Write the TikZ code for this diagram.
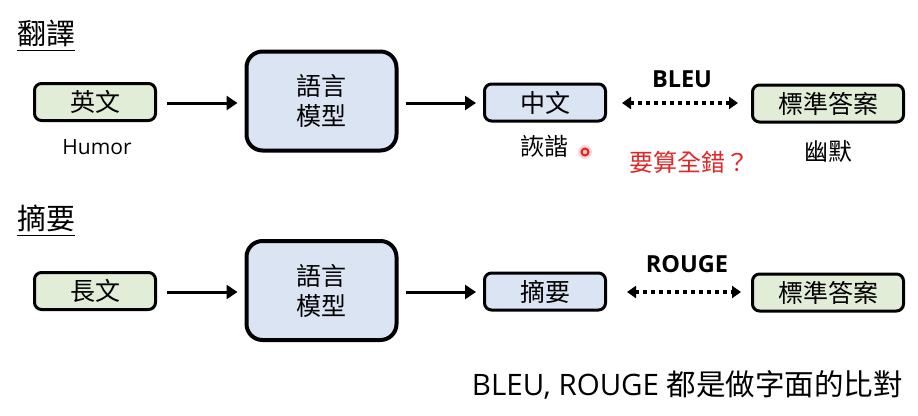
\documentclass[tikz,border=0pt]{standalone}
\usepackage{fontspec}
\setmainfont{Open Sans}
\newfontfamily\cjk{Noto Sans CJK TC}
\usetikzlibrary{arrows.meta}

\definecolor{boxgreen}{RGB}{226,237,215}
\definecolor{boxblue}{RGB}{218,228,243}
\definecolor{alertred}{RGB}{226,38,38}

\tikzset{
  smallbox/.style={draw=black, line width=3pt, rounded corners=7pt,
    minimum height=37pt, inner sep=0pt, font=\cjk\fontsize{25}{28}\selectfont},
  inbox/.style={smallbox, fill=boxgreen, minimum width=121pt},
  outbox/.style={smallbox, fill=boxblue, minimum width=121pt},
  refbox/.style={smallbox, fill=boxgreen, minimum width=151pt},
  modelbox/.style={draw=black, line width=4pt, rounded corners=16pt, fill=boxblue,
    minimum width=150pt, minimum height=99pt, align=center,
    font=\cjk\fontsize{25}{30}\selectfont},
  flow/.style={line width=3pt, -{Triangle[length=11pt,width=14pt]}},
  compare/.style={line width=3.5pt, dash pattern=on 4pt off 4pt,
    {Triangle[length=9pt,width=12pt]}-{Triangle[length=9pt,width=12pt]}},
  heading/.style={anchor=west, inner sep=0pt, font=\cjk\fontsize{29}{32}\selectfont},
  note/.style={inner sep=0pt, font=\cjk\fontsize{24}{26}\selectfont},
  latin/.style={inner sep=0pt, font=\fontsize{21}{24}\selectfont},
  metric/.style={inner sep=0pt, font=\bfseries\fontsize{23.5}{26}\selectfont},
}

\begin{document}
\begin{tikzpicture}[x=1pt,y=-1pt]
  \useasboundingbox (0,0) rectangle (918,415);
  \fill[white] (0,0) rectangle (918,415);

  % ---- translation row ----
  \node[heading] (t1) at (17,33) {翻譯};
  \draw[line width=1.3pt] ([yshift=-4pt]t1.south west) -- ([yshift=-4pt]t1.south east);

  \node[inbox]    (en)   at (95,102)    {英文};
  \node[modelbox] (lm1)  at (321.5,101) {語言\\模型};
  \node[outbox]   (zh)   at (545,102.5) {中文};
  \node[refbox]   (ref1) at (828,103.5) {標準答案};

  \draw[flow, shorten <=10pt, shorten >=7pt] (en.east |- 0,103) -- (lm1.west |- 0,103);
  \draw[flow, shorten <=7pt, shorten >=7pt] (lm1.east |- 0,103) -- (zh.west |- 0,103);
  \draw[compare, shorten <=15pt, shorten >=13pt] (zh.east |- 0,103) -- (ref1.west |- 0,103);

  \node[metric] (bleu) at (682,79) {BLEU};
  \node[latin]  (humor) at (97,147) {Humor};
  \node[note]   (xie)  at (544,146) {詼諧};
  \node[note]   (you)  at (828,151) {幽默};
  \node[note, text=alertred] (wrong) at (689,162) {要算全錯？};

  % pointer mark
  \fill[alertred, opacity=0.18] (585,152) circle (7pt);
  \node[circle, draw=alertred, fill=white!70!alertred, line width=2pt,
        inner sep=0pt, minimum size=7pt] (dot) at (585,152) {};

  % ---- summary row ----
  \node[heading] (t2) at (17,218) {摘要};
  \draw[line width=1.3pt] ([yshift=-4pt]t2.south west) -- ([yshift=-4pt]t2.south east);

  \node[inbox]    (long) at (95,291)    {長文};
  \node[modelbox] (lm2)  at (321.5,290.5) {語言\\模型};
  \node[outbox]   (sum)  at (545,291.5) {摘要};
  \node[refbox]   (ref2) at (828,292.5) {標準答案};

  \draw[flow, shorten <=10pt, shorten >=7pt] (long.east |- 0,292) -- (lm2.west |- 0,292);
  \draw[flow, shorten <=7pt, shorten >=7pt] (lm2.east |- 0,292) -- (sum.west |- 0,292);
  \draw[compare, shorten <=20pt, shorten >=10pt] (sum.east |- 0,292) -- (ref2.west |- 0,292);

  \node[metric] (rouge) at (687,264) {ROUGE};

  % ---- closing remark ----
  \node[anchor=base east, inner sep=0pt, font=\fontsize{29.5}{32}\selectfont] (remark)
    at (903,395) {BLEU, ROUGE {\cjk 都是做字面的比對}};
\end{tikzpicture}
\end{document}
